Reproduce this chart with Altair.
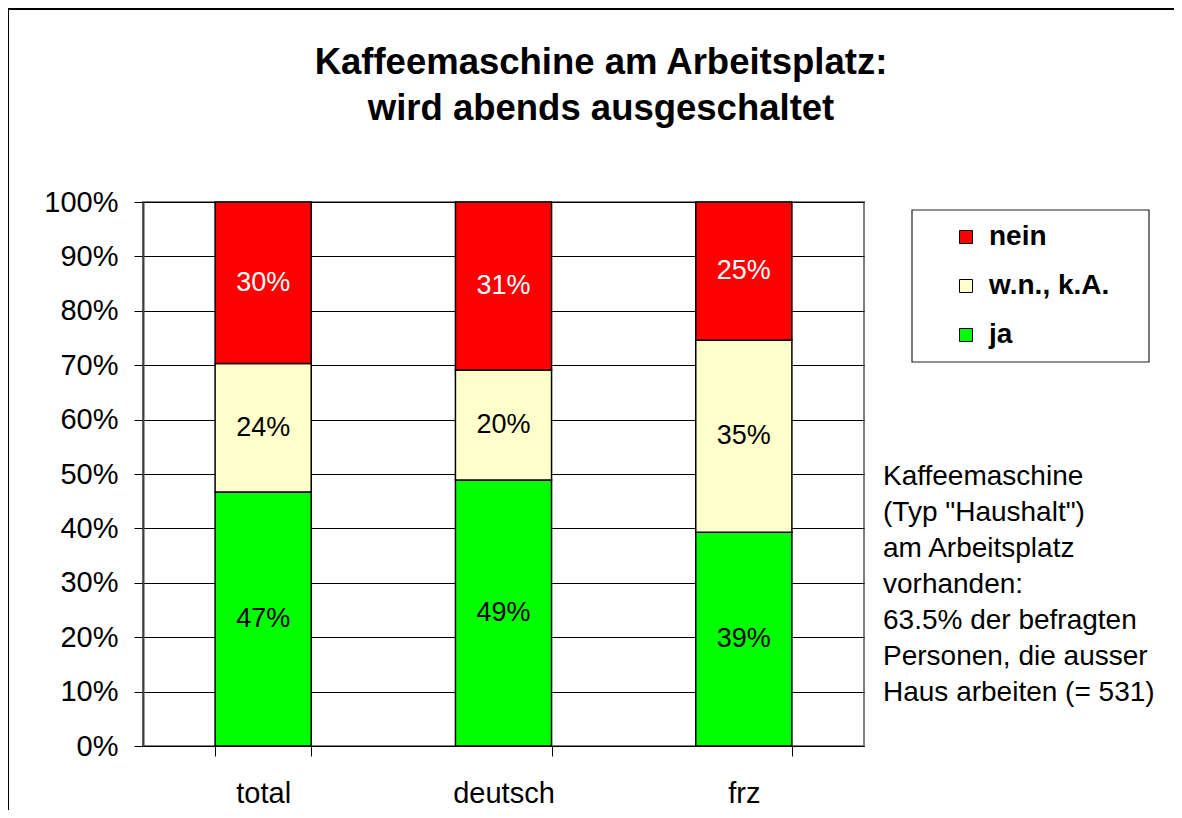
import altair as alt
import pandas as pd

categories = ["total", "deutsch", "frz"]
answers = ["nein", "w.n., k.A.", "ja"]          # legend order (top to bottom)
stack_order = {"ja": 0, "w.n., k.A.": 1, "nein": 2}  # bottom to top
colors = ["#FF0000", "#FFFFCC", "#00FF00"]

ja = [46.7, 48.9, 39.3]
wn = [23.6, 20.2, 35.3]
nein = [29.7, 30.9, 25.4]

title_lines = ["Kaffeemaschine am Arbeitsplatz:", "wird abends ausgeschaltet"]
note_lines = [
    "Kaffeemaschine",
    '(Typ "Haushalt")',
    "am Arbeitsplatz",
    "vorhanden:",
    "63.5% der befragten",
    "Personen, die ausser",
    "Haus arbeiten (= 531)",
]

rows = []
for i, c in enumerate(categories):
    for a, vals in (("ja", ja), ("w.n., k.A.", wn), ("nein", nein)):
        rows.append({"cat": c, "answer": a, "value": vals[i], "ord": stack_order[a]})
df = pd.DataFrame(rows)

FONT = "Liberation Sans"

x_enc = alt.X(
    "cat:N",
    sort=categories,
    scale=alt.Scale(paddingInner=0.6, paddingOuter=0.3),
    axis=alt.Axis(
        title=None, labelAngle=0, tickBand="extent", tickSize=10, tickColor="black",
        domainColor="black", domainWidth=1, grid=False, labelFontSize=29,
        labelPadding=23, labelFont=FONT, labelColor="black",
    ),
)
y_enc_axis = alt.Axis(
    title=None, values=list(range(0, 101, 10)), labelExpr="datum.value + '%'",
    grid=True, gridColor="black", gridWidth=1, domainColor="#404040", domainWidth=2,
    tickColor="black", tickSize=9, labelFontSize=29, labelPadding=16,
    labelFont=FONT, labelColor="black",
)

bars = alt.Chart(df).mark_bar(stroke="black", strokeWidth=1.5).encode(
    x=x_enc,
    y=alt.Y("value:Q", stack="zero", scale=alt.Scale(domain=[0, 100], nice=False), axis=y_enc_axis),
    color=alt.Color(
        "answer:N",
        scale=alt.Scale(domain=answers, range=colors),
        legend=alt.Legend(
            title=None, orient="none", legendX=809, legendY=21, padding=0,
            symbolType="square", symbolSize=169, symbolStrokeColor="black",
            symbolStrokeWidth=1, labelFontSize=28, labelFontWeight="bold",
            labelFont=FONT, labelColor="black", labelOffset=9, rowPadding=21,
        ),
    ),
    order=alt.Order("ord:Q", sort="ascending"),
)

labels = alt.Chart(df).transform_stack(
    stack="value", as_=["y0", "y1"], groupby=["cat"],
    sort=[alt.SortField("ord", order="ascending")],
).transform_calculate(
    mid="(datum.y0 + datum.y1) / 2",
    lbl="format(datum.value, '.0f') + '%'",
).mark_text(fontSize=27, font=FONT, baseline="middle", align="center").encode(
    x=alt.X("cat:N", sort=categories),
    y=alt.Y("mid:Q"),
    text="lbl:N",
    color=alt.condition(alt.datum.answer == "nein", alt.value("white"), alt.value("black")),
)

one = alt.Data(values=[{"k": 1}])

legend_box = alt.Chart(one).mark_rect(fill="white", stroke="#222222", strokeWidth=1.2).encode(
    x=alt.value(769), x2=alt.value(1006), y=alt.value(8), y2=alt.value(160)
)

title = alt.Chart(one).mark_text(
    text=title_lines, fontSize=36.5, fontWeight="bold", font=FONT, align="center",
    baseline="middle", lineHeight=46, color="black",
).encode(x=alt.value(458), y=alt.value(-139))

note = alt.Chart(one).mark_text(
    text=note_lines, fontSize=28, font=FONT, align="left", baseline="top",
    lineHeight=36, color="black",
).encode(x=alt.value(740), y=alt.value(261))

frame_left = alt.Chart(one).mark_rule(color="black", strokeWidth=2).encode(
    x=alt.value(-135), y=alt.value(-193), y2=alt.value(620)
)
frame_top = alt.Chart(one).mark_rule(color="black", strokeWidth=2).encode(
    x=alt.value(-135), x2=alt.value(1031), y=alt.value(-193)
)

chart = alt.layer(bars, labels, legend_box, title, note, frame_left, frame_top).properties(
    width=721, height=544,
    autosize=alt.AutoSizeParams(type="none"),
    padding={"left": 135, "top": 194, "right": 310, "bottom": 64},
).configure_view(stroke="#808080", strokeWidth=2)

chart.save("out.html", embed_options={"renderer": "svg", "actions": False})
